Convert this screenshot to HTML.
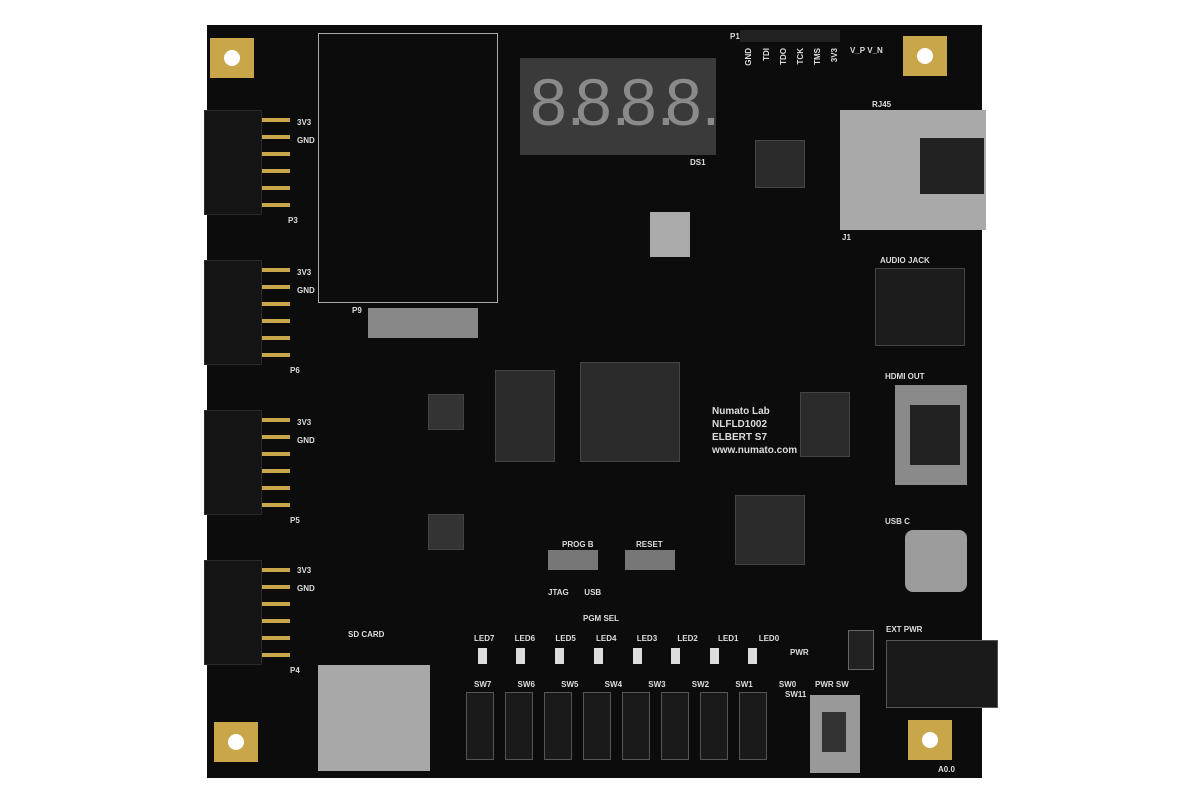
<!DOCTYPE html>
<html><head><meta charset="utf-8"><style>
body{margin:0;width:1200px;height:800px;background:#fff;position:relative;overflow:hidden;font-family:"Liberation Sans",sans-serif}
div{position:absolute;box-sizing:border-box}
.t{color:#ddd;font-size:8px;font-weight:bold;white-space:nowrap}
.v{writing-mode:vertical-rl;transform:rotate(180deg)}
.hdr{background:#141414;border:1px solid #2a2a2a}
.pin{width:28px;height:4px;background:#c9a64a}
.hole{width:44px;height:40px;background:#c9a64a}
.hole:after{content:"";position:absolute;left:14px;top:12px;width:16px;height:16px;border-radius:50%;background:#fff}
.chip{background:#2b2b2b;border:1px solid #444}
.sw{background:#1a1a1a;border:1px solid #555;width:28px;height:68px}
.led{width:9px;height:16px;background:#ddd}
.dg{top:62px;font-size:66px;color:#8a8a8a;line-height:80px}
</style></head><body>
<div style="left:207px;top:25px;width:775px;height:753px;background:#0c0c0c"></div>
<div class="hole" style="left:210px;top:38px"></div>
<div class="hole" style="left:903px;top:36px"></div>
<div class="hole" style="left:214px;top:722px"></div>
<div class="hole" style="left:908px;top:720px"></div>
<div class="hdr" style="left:204px;top:110px;width:58px;height:105px"></div>
<div class="hdr" style="left:204px;top:260px;width:58px;height:105px"></div>
<div class="hdr" style="left:204px;top:410px;width:58px;height:105px"></div>
<div class="hdr" style="left:204px;top:560px;width:58px;height:105px"></div>
<div class="pin" style="left:262px;top:118px"></div><div class="pin" style="left:262px;top:135px"></div><div class="pin" style="left:262px;top:152px"></div><div class="pin" style="left:262px;top:169px"></div><div class="pin" style="left:262px;top:186px"></div><div class="pin" style="left:262px;top:203px"></div>
<div class="pin" style="left:262px;top:268px"></div><div class="pin" style="left:262px;top:285px"></div><div class="pin" style="left:262px;top:302px"></div><div class="pin" style="left:262px;top:319px"></div><div class="pin" style="left:262px;top:336px"></div><div class="pin" style="left:262px;top:353px"></div>
<div class="pin" style="left:262px;top:418px"></div><div class="pin" style="left:262px;top:435px"></div><div class="pin" style="left:262px;top:452px"></div><div class="pin" style="left:262px;top:469px"></div><div class="pin" style="left:262px;top:486px"></div><div class="pin" style="left:262px;top:503px"></div>
<div class="pin" style="left:262px;top:568px"></div><div class="pin" style="left:262px;top:585px"></div><div class="pin" style="left:262px;top:602px"></div><div class="pin" style="left:262px;top:619px"></div><div class="pin" style="left:262px;top:636px"></div><div class="pin" style="left:262px;top:653px"></div>
<div class="t" style="left:297px;top:118px">3V3<br><br>GND</div>
<div class="t" style="left:297px;top:268px">3V3<br><br>GND</div>
<div class="t" style="left:297px;top:418px">3V3<br><br>GND</div>
<div class="t" style="left:297px;top:566px">3V3<br><br>GND</div>
<div class="t" style="left:288px;top:216px">P3</div>
<div class="t" style="left:290px;top:366px">P6</div>
<div class="t" style="left:290px;top:516px">P5</div>
<div class="t" style="left:290px;top:666px">P4</div>
<div style="left:318px;top:33px;width:180px;height:270px;border:1px solid #aaa"></div>
<div style="left:368px;top:308px;width:110px;height:30px;background:#888"></div>
<div class="t" style="left:352px;top:306px">P9</div>
<div style="left:520px;top:58px;width:196px;height:97px;background:#3a3a3a"></div>
<div class="dg" style="left:530px">8.</div>
<div class="dg" style="left:575px">8.</div>
<div class="dg" style="left:620px">8.</div>
<div class="dg" style="left:665px">8.</div>
<div class="t" style="left:690px;top:158px">DS1</div>
<div class="t" style="left:730px;top:32px">P1</div>
<div style="left:740px;top:30px;width:100px;height:12px;background:#222"></div>
<div class="t v" style="left:744px;top:48px">GND</div>
<div class="t v" style="left:762px;top:48px">TDI</div>
<div class="t v" style="left:779px;top:48px">TDO</div>
<div class="t v" style="left:796px;top:48px">TCK</div>
<div class="t v" style="left:813px;top:48px">TMS</div>
<div class="t v" style="left:830px;top:48px">3V3</div>
<div class="t" style="left:850px;top:46px">V_P V_N</div>
<div style="left:840px;top:110px;width:146px;height:120px;background:#a9a9a9"></div>
<div style="left:920px;top:138px;width:64px;height:56px;background:#222"></div>
<div class="t" style="left:872px;top:100px">RJ45</div>
<div class="t" style="left:842px;top:233px">J1</div>
<div class="t" style="left:880px;top:256px">AUDIO JACK</div>
<div style="left:875px;top:268px;width:90px;height:78px;background:#1c1c1c;border:1px solid #444"></div>
<div class="t" style="left:885px;top:372px">HDMI OUT</div>
<div style="left:895px;top:385px;width:72px;height:100px;background:#8a8a8a"></div>
<div style="left:910px;top:405px;width:50px;height:60px;background:#222"></div>
<div class="t" style="left:885px;top:517px">USB C</div>
<div style="left:905px;top:530px;width:62px;height:62px;background:#9c9c9c;border-radius:8px"></div>
<div class="t" style="left:886px;top:625px">EXT PWR</div>
<div style="left:886px;top:640px;width:112px;height:68px;background:#1a1a1a;border:1px solid #555"></div>
<div class="chip" style="left:580px;top:362px;width:100px;height:100px"></div>
<div class="chip" style="left:495px;top:370px;width:60px;height:92px"></div>
<div class="chip" style="left:735px;top:495px;width:70px;height:70px"></div>
<div class="chip" style="left:755px;top:140px;width:50px;height:48px"></div>
<div class="chip" style="left:800px;top:392px;width:50px;height:65px"></div>
<div class="chip" style="left:428px;top:394px;width:36px;height:36px;background:#333"></div>
<div class="chip" style="left:428px;top:514px;width:36px;height:36px;background:#333"></div>
<div style="left:650px;top:212px;width:40px;height:45px;background:#aaa"></div>
<div class="t" style="left:712px;top:405px;font-size:10px;line-height:13px">Numato Lab<br>NLFLD1002<br>ELBERT S7<br>www.numato.com</div>
<div class="t" style="left:562px;top:540px">PROG B</div>
<div class="t" style="left:636px;top:540px">RESET</div>
<div style="left:548px;top:550px;width:50px;height:20px;background:#777"></div>
<div style="left:625px;top:550px;width:50px;height:20px;background:#777"></div>
<div class="t" style="left:548px;top:588px">JTAG &nbsp;&nbsp;&nbsp;&nbsp;&nbsp;&nbsp;USB</div>
<div class="t" style="left:583px;top:614px">PGM SEL</div>
<div class="t" style="left:348px;top:630px">SD CARD</div>
<div style="left:318px;top:665px;width:112px;height:106px;background:#a8a8a8"></div>
<div class="t" style="left:474px;top:634px;word-spacing:18px">LED7 LED6 LED5 LED4 LED3 LED2 LED1 LED0</div>
<div class="led" style="left:478px;top:648px"></div><div class="led" style="left:516px;top:648px"></div><div class="led" style="left:555px;top:648px"></div><div class="led" style="left:594px;top:648px"></div><div class="led" style="left:633px;top:648px"></div><div class="led" style="left:671px;top:648px"></div><div class="led" style="left:710px;top:648px"></div><div class="led" style="left:748px;top:648px"></div>
<div class="t" style="left:474px;top:680px;word-spacing:24px">SW7 SW6 SW5 SW4 SW3 SW2 SW1 SW0</div>
<div class="sw" style="left:466px;top:692px"></div><div class="sw" style="left:505px;top:692px"></div><div class="sw" style="left:544px;top:692px"></div><div class="sw" style="left:583px;top:692px"></div><div class="sw" style="left:622px;top:692px"></div><div class="sw" style="left:661px;top:692px"></div><div class="sw" style="left:700px;top:692px"></div><div class="sw" style="left:739px;top:692px"></div>
<div class="t" style="left:785px;top:690px">SW11</div>
<div class="t" style="left:815px;top:680px">PWR SW</div>
<div style="left:810px;top:695px;width:50px;height:78px;background:#999"></div>
<div style="left:822px;top:712px;width:24px;height:40px;background:#333"></div>
<div class="t" style="left:790px;top:648px">PWR</div>
<div style="left:848px;top:630px;width:26px;height:40px;background:#222;border:1px solid #666"></div>
<div class="t" style="left:938px;top:765px">A0.0</div>
</body></html>
